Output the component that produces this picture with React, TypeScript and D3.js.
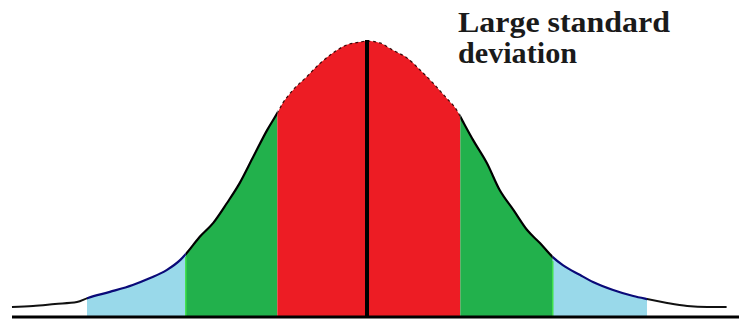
import React from "react";
import * as d3 from "d3";

// Curve: x in standard-deviation units, y as share of the peak height
const curveX = [
  -3.88, -3.65, -3.41, -3.17, -3.05, -2.81, -2.56, -2.37, -2.19, -2.04, -1.97, -1.83, -1.68,
  -1.53, -1.39, -1.25, -1.09, -0.98, -0.92, -0.81, -0.66, -0.51, -0.37, -0.22, -0.08, 0,
  0.14, 0.28, 0.44, 0.58, 0.72, 0.87, 0.98, 1.05, 1.16, 1.31, 1.45, 1.6, 1.75, 1.89, 2.03,
  2.14, 2.33, 2.47, 2.69, 2.91, 3.06, 3.28, 3.5, 3.72, 3.93,
];
const curveY = [
  0.036, 0.04, 0.047, 0.054, 0.069, 0.091, 0.116, 0.141, 0.17, 0.207, 0.232, 0.29, 0.341,
  0.413, 0.486, 0.576, 0.678, 0.739, 0.775, 0.822, 0.87, 0.92, 0.957, 0.986, 0.996, 1.0,
  0.993, 0.967, 0.938, 0.895, 0.848, 0.793, 0.75, 0.707, 0.641, 0.558, 0.46, 0.388, 0.315,
  0.268, 0.217, 0.188, 0.152, 0.127, 0.098, 0.076, 0.065, 0.051, 0.04, 0.036, 0.036,
];

// Band boundaries (in sd units) and colours
const bandNames = ["tailL", "blueL", "greenL", "red", "greenR", "blueR", "tailR"];
const bandLo = [-4.0, -3.06, -1.98, -0.98, 1.02, 2.03, 3.06];
const bandHi = [-3.06, -1.98, -0.98, 1.02, 2.03, 3.06, 4.1];
const bandFill = ["none", "#99d9ea", "#22b14c", "#ed1c24", "#22b14c", "#99d9ea", "none"];
const bandStroke = ["#111", "#0a0a78", "#000", "#3a0808", "#000", "#0a0a78", "#111"];
const bandStrokeW = [2, 2.2, 2.2, 1.2, 2.2, 2.2, 2];

const titleLines = ["Large standard", "deviation"];
const titleWidths = [212, 119];

export default function App() {
  const W = 739;
  const H = 320;
  const x = d3.scaleLinear().domain([0, 1]).range([367, 458.5]); // 1 sd = 91.5 px
  const y = d3.scaleLinear().domain([0, 1]).range([317, 41]);

  const pts = curveX.map((v, i) => [v, curveY[i]] as [number, number]);
  const area = d3
    .area<[number, number]>()
    .x((d) => x(d[0]))
    .y0(y(0))
    .y1((d) => y(d[1]))
    .curve(d3.curveMonotoneX);
  const line = d3
    .line<[number, number]>()
    .x((d) => x(d[0]))
    .y((d) => y(d[1]))
    .curve(d3.curveMonotoneX);
  const areaD = area(pts) || "";
  const lineD = line(pts) || "";

  return (
    <svg
      width={W}
      height={H}
      style={{ position: "absolute", left: 0, top: 0, background: "#fff" }}
    >
      <defs>
        {bandNames.map((n, i) => (
          <clipPath id={"clip-" + n} key={n}>
            <rect
              x={x(bandLo[i])}
              y={0}
              width={x(bandHi[i]) - x(bandLo[i])}
              height={H}
            />
          </clipPath>
        ))}
      </defs>
      {bandNames.map((n, i) =>
        bandFill[i] === "none" ? null : (
          <path key={"f" + n} d={areaD} fill={bandFill[i]} clipPath={`url(#clip-${n})`} />
        )
      )}
      {bandNames.map((n, i) => (
        <path
          key={"s" + n}
          d={lineD}
          fill="none"
          stroke={bandStroke[i]}
          strokeWidth={bandStrokeW[i]}
          strokeDasharray={i === 3 ? "3 3" : undefined}
          clipPath={`url(#clip-${n})`}
        />
      ))}
      {/* bright green edges at the green / blue boundaries */}
      {[1, 5].map((i) => {
        const xv = i === 1 ? bandHi[i] : bandLo[i];
        const idx = d3.bisector((d: number) => d).left(curveX, xv);
        const yv = curveY[Math.min(idx, curveY.length - 1)];
        return (
          <line
            key={"g" + i}
            x1={x(xv)}
            x2={x(xv)}
            y1={y(yv) + 4}
            y2={y(0)}
            stroke="#3ee04a"
            strokeWidth={1.5}
          />
        );
      })}
      {/* mean line */}
      <line x1={x(0)} x2={x(0)} y1={y(1) - 1} y2={y(0)} stroke="#000" strokeWidth={4} />
      {/* baseline */}
      <line x1={12} x2={W} y1={y(0)} y2={y(0)} stroke="#000" strokeWidth={3} />
      {titleLines.map((t, i) => (
        <text
          key={t}
          x={458}
          y={32 + i * 31}
          fontFamily="'Liberation Serif', 'DejaVu Serif', serif"
          fontWeight="bold"
          fontSize={30}
          textLength={titleWidths[i]}
          lengthAdjust="spacingAndGlyphs"
          fill="#1a1a1a"
        >
          {t}
        </text>
      ))}
    </svg>
  );
}
